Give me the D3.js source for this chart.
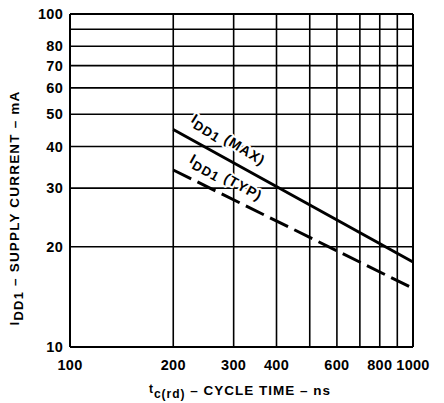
<!DOCTYPE html>
<html><head><meta charset="utf-8">
<script src="https://cdn.jsdelivr.net/npm/d3@7"></script>
<style>body{margin:0;background:#fff}text{font-family:"Liberation Sans",Arial,sans-serif;font-weight:bold;fill:#000}</style>
</head><body><svg id="c" width="444" height="403"></svg>
<script>
const xGrid = [100,200,300,400,500,600,700,800,900,1000];
const yGrid = [10,20,30,40,50,60,70,80,90,100];
const xTickLabels = [100,200,300,400,600,800,1000];
const yTickLabels = [10,20,30,40,50,60,70,80,100];
const cycleTime = [200, 1000];
const iddMax = [45, 18];
const iddTyp = [34, 15];

const svg = d3.select("#c");
const x = d3.scaleLog().domain([100,1000]).range([70,413]);
const y = d3.scaleLog().domain([10,100]).range([347,14]);

const g = svg.append("g");
g.selectAll(".vg").data(xGrid).enter().append("line")
 .attr("x1",d=>x(d)).attr("x2",d=>x(d)).attr("y1",y(10)).attr("y2",y(100))
 .attr("stroke","#000").attr("stroke-width",d=>(d===100||d===1000)?2:1.6);
g.selectAll(".hg").data(yGrid).enter().append("line")
 .attr("y1",d=>y(d)).attr("y2",d=>y(d)).attr("x1",x(100)).attr("x2",x(1000))
 .attr("stroke","#000").attr("stroke-width",d=>(d===10||d===100)?2:1.6);

g.selectAll(".yl").data(yTickLabels).enter().append("text")
 .attr("x",63).attr("y",d=>y(d)).attr("dy","0.36em").attr("text-anchor","end")
 .attr("font-size",14.5).attr("letter-spacing",0.3).text(d=>d);
g.selectAll(".xl").data(xTickLabels).enter().append("text")
 .attr("x",d=>x(d)).attr("y",370).attr("text-anchor","middle")
 .attr("font-size",14.5).attr("letter-spacing",0.3).text(d=>d);

const line = d3.line().x(d=>x(d[0])).y(d=>y(d[1]));
g.append("path").attr("d",line(cycleTime.map((c,i)=>[c,iddMax[i]])))
 .attr("stroke","#000").attr("stroke-width",3).attr("fill","none");
g.append("path").attr("d",line(cycleTime.map((c,i)=>[c,iddTyp[i]])))
 .attr("stroke","#000").attr("stroke-width",3).attr("fill","none").attr("stroke-dasharray","20,7");

function slopeAngle(vals){
  return Math.atan2(y(vals[1])-y(vals[0]), x(cycleTime[1])-x(cycleTime[0]))*180/Math.PI;
}
function curveLabel(px,py,ang,name){
  const t = g.append("text").attr("transform",`translate(${px},${py}) rotate(${ang})`)
    .attr("font-size",14).attr("letter-spacing",1)
    .attr("stroke","#fff").attr("stroke-width",4).attr("paint-order","stroke").attr("stroke-linejoin","round");
  t.append("tspan").text("I");
  t.append("tspan").attr("dy",4).attr("font-size",13).text("DD1");
  t.append("tspan").attr("dy",-4).text(" ("+name+")");
}
curveLabel(x(224), y(iddMax[0])-8, slopeAngle(iddMax)+3, "MAX");
curveLabel(x(222), y(iddTyp[0])-8, slopeAngle(iddTyp)+3, "TYP");

// axis titles
const xt = svg.append("text").attr("x",240).attr("y",395).attr("text-anchor","middle")
  .attr("font-size",13.5).attr("letter-spacing",1);
xt.append("tspan").attr("font-size",12).attr("dy",-2).text("t");
xt.append("tspan").attr("dy",5).attr("font-size",12).text("c(rd)");
xt.append("tspan").attr("dy",-3).text(" \u2013 CYCLE TIME \u2013 ns");

const yt = svg.append("text").attr("transform","translate(19,208) rotate(-90)").attr("text-anchor","middle")
  .attr("font-size",13.5).attr("letter-spacing",1.2);
yt.append("tspan").text("I");
yt.append("tspan").attr("dy",4).attr("font-size",13).text("DD1");
yt.append("tspan").attr("dy",-4).text(" \u2013 SUPPLY CURRENT \u2013 mA");
</script></body></html>
